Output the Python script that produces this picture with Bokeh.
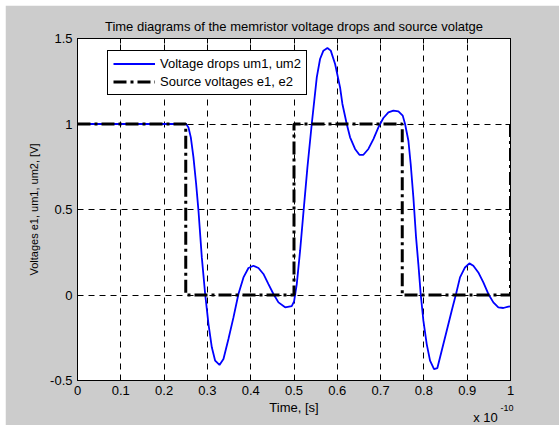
from bokeh.plotting import figure
from bokeh.models import Range1d, LinearAxis, Label, Legend, LegendItem, FixedTicker, Title
from bokeh.embed import file_html
from bokeh.resources import INLINE

# ---- data (time in units of 1e-10 s) ----
t_um = [0, 0.245, 0.2509, 0.2563, 0.2617, 0.2678, 0.2740, 0.2794, 0.2871, 0.2948,
        0.3025, 0.3102, 0.3179, 0.3279, 0.3371, 0.3486, 0.3602, 0.3717, 0.3833, 0.3948,
        0.4063, 0.4179, 0.4294, 0.4410, 0.4525, 0.4641, 0.4795, 0.4948, 0.5002, 0.5064,
        0.5141, 0.5218, 0.5310, 0.5410, 0.5526, 0.5602, 0.5679, 0.5772, 0.5849, 0.5949,
        0.6064, 0.6118, 0.6218, 0.6295, 0.6410, 0.6510, 0.6603, 0.6718, 0.6834, 0.6949,
        0.7064, 0.7180, 0.7295, 0.7411, 0.7511, 0.7565, 0.7642, 0.7695, 0.7757, 0.7819,
        0.7872, 0.7926, 0.7988, 0.8065, 0.8142, 0.8234, 0.8311, 0.8411, 0.8527, 0.8642,
        0.8742, 0.8834, 0.8949, 0.9050, 0.9142, 0.9257, 0.9373, 0.9488, 0.9604, 0.9719,
        0.9834, 0.9950, 1.0]
um = [1.0, 1.0, 1.0, 0.980, 0.922, 0.805, 0.649, 0.493, 0.220, 0.006,
      -0.170, -0.306, -0.384, -0.409, -0.374, -0.257, -0.131, 0.006, 0.103, 0.158,
      0.171, 0.158, 0.123, 0.064, 0.006, -0.043, -0.072, -0.065, -0.037, 0.064,
      0.259, 0.483, 0.746, 1.0, 1.273, 1.380, 1.429, 1.444, 1.429, 1.351,
      1.214, 1.117, 1.0, 0.922, 0.854, 0.820, 0.820, 0.854, 0.912, 0.980,
      1.035, 1.068, 1.078, 1.074, 1.049, 1.0, 0.902, 0.766, 0.571, 0.337,
      0.181, 0.006, -0.150, -0.287, -0.384, -0.433, -0.427, -0.326, -0.209, -0.092,
      0.006, 0.103, 0.161, 0.185, 0.171, 0.132, 0.074, 0.006, -0.043, -0.072,
      -0.076, -0.068, -0.067]

t_e = [0, 0.25, 0.25, 0.5, 0.5, 0.75, 0.75, 1.0, 1.0]
e = [1, 1, 0, 0, 1, 1, 0, 0, 1]

x_ticks = [0, 0.1, 0.2, 0.3, 0.4, 0.5, 0.6, 0.7, 0.8, 0.9, 1.0]
x_tick_labels = ["0", "0.1", "0.2", "0.3", "0.4", "0.5", "0.6", "0.7", "0.8", "0.9", "1"]
y_ticks = [-0.5, 0, 0.5, 1.0, 1.5]
y_tick_labels = ["-0.5", "0", "0.5", "1", "1.5"]

title_text = "Time diagrams of the memristor voltage drops and source volatge"
x_label = "Time, [s]"
y_label = "Voltages e1, um1, um2, [V]"
series_labels = ["Voltage drops um1, um2", "Source voltages e1, e2"]
x_mult = "x 10"
x_exp = "-10"

FONT = "Liberation Sans"
FS = "13px"

p = figure(frame_width=433, frame_height=342,
           x_range=Range1d(0, 1), y_range=Range1d(-0.5, 1.5),
           output_backend="svg", toolbar_location=None,
           min_border_left=72, min_border_right=49, min_border_top=33, min_border_bottom=45,
           background_fill_color="white", border_fill_color="#cccccc",
           outline_line_color="black", outline_line_width=1, outline_line_alpha=1,
           margin=(5, 0, 0, 5))

p.title = Title(text=title_text, align="center", text_font=FONT, text_font_size=FS,
                text_font_style="normal", text_color="black", standoff=10)

def style_axis(ax, ticks, labels, show_labels=True):
    ax.ticker = FixedTicker(ticks=ticks)
    ax.minor_tick_line_color = None
    ax.major_tick_in = 5
    ax.major_tick_out = 0
    ax.major_tick_line_color = "black"
    ax.axis_line_color = "black"
    ax.major_label_text_font = FONT
    ax.axis_label_text_font = FONT
    ax.axis_label_text_font_size = FS
    ax.axis_label_text_font_style = "normal"
    ax.axis_label_text_color = "black"
    if show_labels:
        ax.major_label_overrides = {k: v for k, v in zip(ticks, labels)}
        ax.major_label_text_font_size = FS
        ax.major_label_text_color = "black"
    else:
        ax.major_label_text_font_size = "1px"
        ax.major_label_text_color = None
        ax.major_label_standoff = 0

style_axis(p.xaxis[0], x_ticks, x_tick_labels)
style_axis(p.yaxis[0], y_ticks, y_tick_labels)
p.xaxis[0].axis_label = x_label
p.yaxis[0].axis_label = y_label
p.yaxis[0].axis_label_text_font_size = "11px"
p.xaxis[0].major_label_standoff = 5
p.xaxis[0].axis_label_standoff = 2
p.yaxis[0].major_label_standoff = 5
p.yaxis[0].axis_label_standoff = 7

top_ax = LinearAxis()
right_ax = LinearAxis()
style_axis(top_ax, x_ticks, x_tick_labels, show_labels=False)
style_axis(right_ax, y_ticks, y_tick_labels, show_labels=False)
p.add_layout(top_ax, "above")
p.add_layout(right_ax, "right")

for g, ticks in ((p.xgrid[0], x_ticks), (p.ygrid[0], y_ticks)):
    g.ticker = FixedTicker(ticks=ticks)
    g.grid_line_color = "black"
    g.grid_line_alpha = 1
    g.grid_line_width = 1
    g.grid_line_dash = "6 5"

r_um = p.line(t_um, um, line_color="#0000ff", line_width=1.8)
r_e = p.line(t_e, e, line_color="black", line_width=3, line_dash="13 4 3 4")

legend = Legend(items=[LegendItem(label=series_labels[0], renderers=[r_um]),
                       LegendItem(label=series_labels[1], renderers=[r_e])],
                location=(30, 285), border_line_color="black", border_line_width=1,
                border_line_alpha=1, background_fill_color="white", background_fill_alpha=1,
                padding=5, spacing=3, margin=0, glyph_width=42, glyph_height=15,
                label_height=15, label_standoff=5, label_text_font=FONT,
                label_text_font_size=FS, label_text_color="black")
p.add_layout(legend)

# multiplier "x 10^-10" below the right end of the x axis (placed in the right side panel,
# positioned through the plot's own data scales)
p.add_layout(Label(x=0.914, y=-0.714, text=x_mult,
                   text_font=FONT, text_font_size=FS, text_color="black",
                   text_baseline="alphabetic"), "right")
p.add_layout(Label(x=0.977, y=-0.660, text=x_exp,
                   text_font=FONT, text_font_size="9px", text_color="black",
                   text_baseline="alphabetic"), "right")

open("out.html", "w").write(file_html(p, INLINE))
